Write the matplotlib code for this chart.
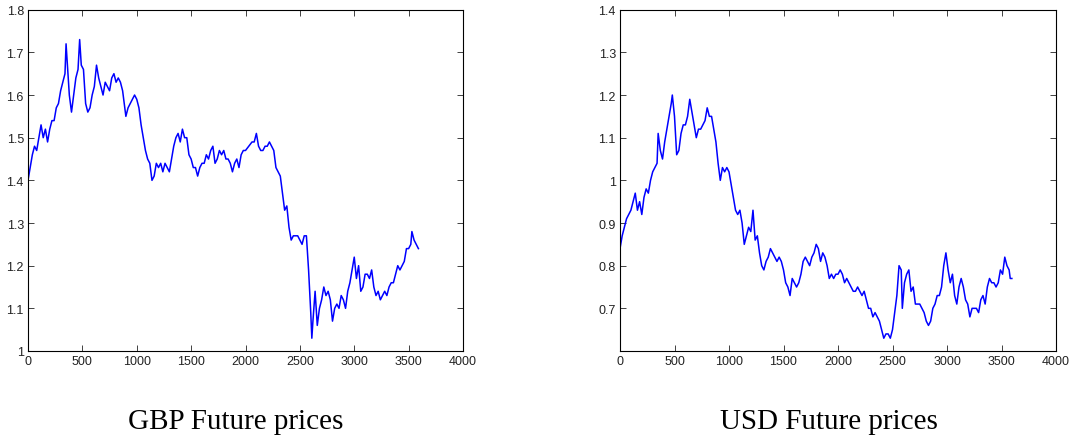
import matplotlib
matplotlib.use("Agg")
import matplotlib.pyplot as plt
import matplotlib.ticker as mticker

# GBP futures, values
gbp_t = [0, 20, 40, 60, 80, 100, 120, 140, 160, 180, 200, 220, 240, 260, 280, 300,
         320, 340, 350, 360, 380, 400, 420, 440, 460, 475, 490, 510, 530, 550, 570,
         590, 610, 630, 650, 670, 690, 710, 730, 750, 770, 790, 810, 830, 850, 870,
         890, 900, 920, 940, 960, 980, 1000, 1020, 1040, 1060, 1080, 1100, 1120, 1140,
         1160, 1180, 1200, 1220, 1240, 1260, 1280, 1300, 1320, 1340, 1360, 1380, 1400,
         1420, 1440, 1460, 1480, 1500, 1520, 1540, 1560, 1580, 1600, 1620, 1640, 1660,
         1680, 1700, 1720, 1740, 1760, 1780, 1800, 1820, 1840, 1860, 1880, 1900, 1920,
         1940, 1960, 1980, 2000, 2030, 2060, 2080, 2100, 2120, 2140, 2160, 2180, 2200,
         2220, 2240, 2260, 2280, 2300, 2320, 2340, 2360, 2380, 2400, 2420, 2440, 2460,
         2480, 2500, 2520, 2540, 2560, 2580, 2600, 2610, 2620, 2640, 2660, 2680, 2700,
         2720, 2740, 2760, 2780, 2800, 2820, 2840, 2860, 2880, 2900, 2920, 2940, 2960,
         2980, 3000, 3020, 3040, 3060, 3080, 3100, 3120, 3140, 3160, 3180, 3200, 3220,
         3240, 3260, 3280, 3300, 3320, 3340, 3360, 3380, 3400, 3420, 3440, 3460, 3480,
         3500, 3520, 3530, 3550, 3570, 3590]
gbp_p = [1.40, 1.43, 1.46, 1.48, 1.47, 1.50, 1.53, 1.50, 1.52, 1.49, 1.52, 1.54, 1.54,
         1.57, 1.58, 1.61, 1.63, 1.65, 1.72, 1.68, 1.60, 1.56, 1.60, 1.64, 1.66, 1.73,
         1.67, 1.66, 1.58, 1.56, 1.57, 1.60, 1.62, 1.67, 1.64, 1.62, 1.60, 1.63, 1.62,
         1.61, 1.64, 1.65, 1.63, 1.64, 1.63, 1.61, 1.57, 1.55, 1.57, 1.58, 1.59, 1.60,
         1.59, 1.57, 1.53, 1.50, 1.47, 1.45, 1.44, 1.40, 1.41, 1.44, 1.43, 1.44, 1.42,
         1.44, 1.43, 1.42, 1.45, 1.48, 1.50, 1.51, 1.49, 1.52, 1.50, 1.50, 1.46, 1.45,
         1.43, 1.43, 1.41, 1.43, 1.44, 1.44, 1.46, 1.45, 1.47, 1.48, 1.44, 1.45, 1.47,
         1.46, 1.47, 1.45, 1.45, 1.44, 1.42, 1.44, 1.45, 1.43, 1.46, 1.47, 1.47, 1.48,
         1.49, 1.49, 1.51, 1.48, 1.47, 1.47, 1.48, 1.48, 1.49, 1.48, 1.47, 1.43, 1.42,
         1.41, 1.37, 1.33, 1.34, 1.29, 1.26, 1.27, 1.27, 1.27, 1.26, 1.25, 1.27, 1.27,
         1.19, 1.09, 1.03, 1.07, 1.14, 1.06, 1.10, 1.12, 1.15, 1.13, 1.14, 1.12, 1.07,
         1.10, 1.11, 1.10, 1.13, 1.12, 1.10, 1.14, 1.16, 1.19, 1.22, 1.17, 1.20, 1.14,
         1.15, 1.18, 1.18, 1.17, 1.19, 1.15, 1.13, 1.14, 1.12, 1.13, 1.14, 1.13, 1.15,
         1.16, 1.16, 1.18, 1.20, 1.19, 1.20, 1.21, 1.24, 1.24, 1.25, 1.28, 1.26, 1.25,
         1.24]

# USD futures
usd_t = [0, 20, 40, 60, 80, 100, 120, 140, 160, 180, 200, 220, 240, 260, 280, 300,
         320, 340, 350, 370, 390, 410, 430, 450, 470, 480, 500, 520, 540, 560, 580,
         600, 620, 640, 660, 680, 700, 720, 740, 760, 780, 800, 820, 840, 860, 880,
         900, 920, 940, 960, 980, 1000, 1020, 1040, 1060, 1080, 1100, 1120, 1140, 1160,
         1180, 1200, 1220, 1240, 1260, 1280, 1300, 1320, 1340, 1360, 1380, 1400, 1420,
         1440, 1460, 1480, 1500, 1520, 1540, 1560, 1580, 1600, 1620, 1640, 1660, 1680,
         1700, 1720, 1740, 1760, 1780, 1800, 1820, 1840, 1860, 1880, 1900, 1920, 1940,
         1960, 1980, 2000, 2020, 2040, 2060, 2080, 2100, 2120, 2140, 2160, 2180, 2200,
         2220, 2240, 2260, 2280, 2300, 2320, 2340, 2360, 2380, 2400, 2420, 2440, 2460,
         2480, 2500, 2520, 2540, 2560, 2580, 2590, 2610, 2630, 2650, 2670, 2690, 2710,
         2730, 2750, 2770, 2790, 2810, 2830, 2850, 2870, 2890, 2910, 2930, 2950, 2970,
         2990, 3010, 3030, 3050, 3070, 3090, 3110, 3130, 3150, 3170, 3190, 3210, 3230,
         3250, 3270, 3290, 3310, 3330, 3350, 3370, 3390, 3410, 3430, 3450, 3470, 3490,
         3510, 3530, 3550, 3570, 3580, 3595]
usd_p = [0.84, 0.87, 0.89, 0.91, 0.92, 0.93, 0.95, 0.97, 0.93, 0.95, 0.92, 0.96, 0.98,
         0.97, 1.00, 1.02, 1.03, 1.04, 1.11, 1.07, 1.05, 1.09, 1.12, 1.15, 1.18, 1.20,
         1.15, 1.06, 1.07, 1.11, 1.13, 1.13, 1.15, 1.19, 1.16, 1.13, 1.10, 1.12, 1.12,
         1.13, 1.14, 1.17, 1.15, 1.15, 1.12, 1.09, 1.04, 1.00, 1.03, 1.02, 1.03, 1.02,
         0.99, 0.96, 0.93, 0.92, 0.93, 0.90, 0.85, 0.87, 0.89, 0.88, 0.93, 0.86, 0.87,
         0.83, 0.80, 0.79, 0.81, 0.82, 0.84, 0.83, 0.82, 0.81, 0.82, 0.81, 0.79, 0.76,
         0.75, 0.73, 0.77, 0.76, 0.75, 0.76, 0.78, 0.81, 0.82, 0.81, 0.80, 0.82, 0.83,
         0.85, 0.84, 0.81, 0.83, 0.82, 0.80, 0.77, 0.78, 0.77, 0.78, 0.78, 0.79, 0.78,
         0.76, 0.77, 0.76, 0.75, 0.74, 0.74, 0.75, 0.74, 0.73, 0.74, 0.72, 0.70, 0.70,
         0.68, 0.69, 0.68, 0.67, 0.65, 0.63, 0.64, 0.64, 0.63, 0.65, 0.69, 0.73, 0.80,
         0.79, 0.70, 0.76, 0.78, 0.79, 0.74, 0.75, 0.71, 0.71, 0.71, 0.70, 0.69, 0.67,
         0.66, 0.67, 0.70, 0.71, 0.73, 0.73, 0.75, 0.80, 0.83, 0.79, 0.76, 0.78, 0.73,
         0.71, 0.75, 0.77, 0.75, 0.72, 0.71, 0.68, 0.70, 0.70, 0.70, 0.69, 0.72, 0.73,
         0.71, 0.75, 0.77, 0.76, 0.76, 0.75, 0.76, 0.79, 0.78, 0.82, 0.80, 0.79, 0.77,
         0.77]

titles = ["GBP Future prices", "USD Future prices"]
x_ticks = list(range(0, 4001, 500))
gbp_yticks = [1.0, 1.1, 1.2, 1.3, 1.4, 1.5, 1.6, 1.7, 1.8]
usd_yticks = [0.6, 0.7, 0.8, 0.9, 1.0, 1.1, 1.2, 1.3, 1.4]

plt.rcParams['font.family'] = ['Liberation Sans', 'DejaVu Sans']

fig = plt.figure(figsize=(10.71, 4.39), dpi=100)
ax1 = fig.add_axes([28 / 1071, 87 / 439, 435 / 1071, 341.3 / 439])
ax2 = fig.add_axes([620 / 1071, 87 / 439, 436 / 1071, 341.3 / 439])


def fmt(v, pos):
    return f"{v:g}"


def style(ax, yticks, ylim, label_bottom):
    ax.set_xlim(0, 4000)
    ax.set_ylim(*ylim)
    ax.set_xticks(x_ticks)
    ax.set_yticks(yticks)
    ax.xaxis.set_major_formatter(mticker.FuncFormatter(fmt))
    labels = [f"{v:g}" for v in yticks]
    if not label_bottom:
        labels[0] = ""
    ax.set_yticklabels(labels)
    ax.tick_params(direction='in', top=True, right=True, length=4, width=0.6,
                   labelsize=9, pad=3, colors='#222222')
    for s in ax.spines.values():
        s.set_linewidth(0.8)


ax1.plot(gbp_t, gbp_p, color='#0000ff', linewidth=1.1)
ax2.plot(usd_t, usd_p, color='#0000ff', linewidth=1.1)
style(ax1, gbp_yticks, (1.0, 1.8), True)
style(ax2, usd_yticks, (0.6, 1.4), False)

fig.text(236 / 1071, 17 / 439, titles[0], ha='center', va='center',
         family='Liberation Serif', fontsize=21)
fig.text(829 / 1071, 17 / 439, titles[1], ha='center', va='center',
         family='Liberation Serif', fontsize=21)

fig.savefig("out.png", dpi=100)
